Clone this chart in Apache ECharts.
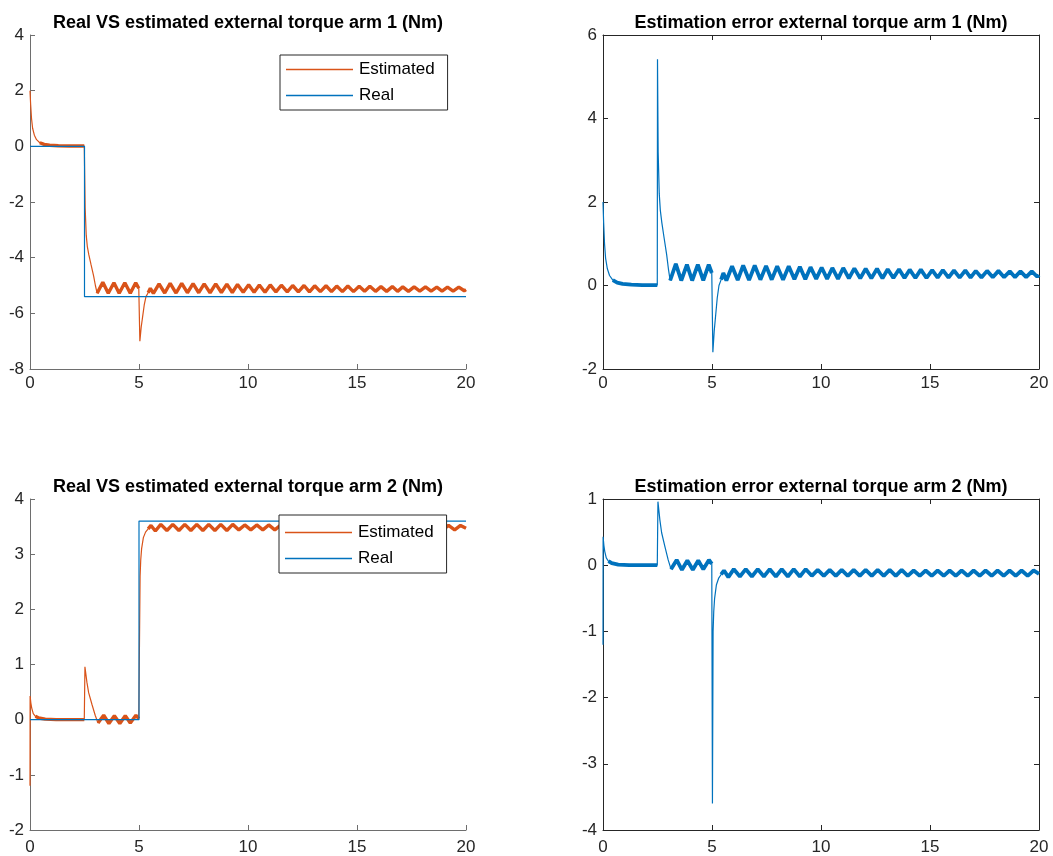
<!DOCTYPE html>
<html>
<head>
<meta charset="utf-8">
<script src="https://cdn.jsdelivr.net/npm/echarts@6/dist/echarts.min.js"></script>
<style>
  html, body { margin: 0; padding: 0; background: #fff; }
  #chart { width: 1053px; height: 856px; }
</style>
</head>
<body>
<div id="chart"></div>
<script>
// ---- data -------------------------------------------------------------
// Real external torque: step profiles (time in s, torque in Nm)
const realTime1 = [0, 2.5, 2.5, 20];
const realValue1 = [0, 0, -5.4, -5.4];
const realTime2 = [0, 5, 5, 20];
const realValue2 = [0, 0, 3.6, 3.6];

// Estimation error (estimated - real), arm 1: [time, error]
const err1 = [
  [0, 2.0], [0.03, 1.5], [0.07, 1.0], [0.12, 0.65], [0.2, 0.4], [0.3, 0.24], [0.45, 0.13],
  [0.65, 0.07], [0.9, 0.04], [1.3, 0.02], [1.8, 0.01], [2.49, 0.01],
  [2.5, 5.42], [2.53, 3.2], [2.58, 2.2], [2.63, 1.8], [2.7, 1.5], [2.8, 1.15], [2.92, 0.74],
  [3.0, 0.4], [3.08, 0.12],
  [3.34, 0.52], [3.59, 0.12], [3.85, 0.5], [4.09, 0.12], [4.35, 0.5], [4.6, 0.12], [4.85, 0.5],
  [4.99, 0.3], [5.04, -1.6], [5.1, -1.1], [5.17, -0.7], [5.24, -0.3], [5.32, 0.0], [5.42, 0.14],
  [5.52, 0.3], [5.66, 0.12], [5.92, 0.46], [6.18, 0.13], [6.43, 0.48], [6.7, 0.13], [6.96, 0.48],
  [7.22, 0.14], [7.48, 0.47], [7.74, 0.14], [7.99, 0.46], [8.26, 0.14], [8.52, 0.46], [8.78, 0.15],
  [9.03, 0.45], [9.28, 0.15], [9.52, 0.44], [9.78, 0.16], [10.03, 0.43], [10.28, 0.16], [10.52, 0.42],
  [10.78, 0.16], [11.02, 0.42], [11.28, 0.17], [11.53, 0.41], [11.8, 0.17], [12.05, 0.4], [12.31, 0.17],
  [12.57, 0.4], [12.82, 0.17], [13.06, 0.39], [13.32, 0.18], [13.58, 0.39], [13.83, 0.18], [14.07, 0.38],
  [14.33, 0.18], [14.58, 0.38], [14.84, 0.18], [15.1, 0.37], [15.35, 0.19], [15.59, 0.37], [15.85, 0.19],
  [16.1, 0.36], [16.36, 0.19], [16.62, 0.36], [16.86, 0.19], [17.1, 0.35], [17.36, 0.19], [17.62, 0.35],
  [17.88, 0.2], [18.14, 0.35], [18.4, 0.2], [18.66, 0.34], [18.9, 0.2], [19.15, 0.34], [19.41, 0.2],
  [19.67, 0.34], [19.92, 0.21], [20, 0.25]
];

// Estimation error (estimated - real), arm 2: [time, error]
const err2 = [
  [0, -1.2], [0.005, 0.43], [0.04, 0.3], [0.08, 0.21], [0.15, 0.11], [0.25, 0.06], [0.4, 0.03],
  [0.7, 0.01], [1.2, 0.0], [2.49, 0.0],
  [2.52, 0.96], [2.61, 0.68], [2.69, 0.49], [2.84, 0.28], [2.99, 0.08], [3.12, -0.06],
  [3.38, 0.08], [3.62, -0.07], [3.87, 0.07], [4.12, -0.07], [4.37, 0.07], [4.6, -0.06], [4.86, 0.08],
  [4.99, 0.02], [5.02, -3.6], [5.05, -1.0], [5.08, -0.7], [5.12, -0.5], [5.2, -0.3], [5.3, -0.2],
  [5.42, -0.14], [5.55, -0.08], [5.75, -0.18], [6.0, -0.06], [6.28, -0.17], [6.55, -0.06], [6.83, -0.17],
  [7.1, -0.06], [7.38, -0.17], [7.65, -0.06], [7.93, -0.17], [8.2, -0.06], [8.48, -0.17], [8.75, -0.06],
  [9.03, -0.17], [9.3, -0.06], [9.58, -0.16], [9.85, -0.07], [10.13, -0.16], [10.4, -0.07], [10.68, -0.16],
  [10.95, -0.07], [11.23, -0.16], [11.5, -0.07], [11.78, -0.16], [12.05, -0.07], [12.33, -0.16], [12.6, -0.07],
  [12.88, -0.16], [13.15, -0.07], [13.43, -0.16], [13.7, -0.07], [13.98, -0.16], [14.25, -0.08], [14.53, -0.16],
  [14.8, -0.08], [15.08, -0.16], [15.35, -0.08], [15.63, -0.16], [15.9, -0.08], [16.18, -0.16], [16.45, -0.08],
  [16.73, -0.16], [17.0, -0.08], [17.28, -0.16], [17.55, -0.08], [17.83, -0.16], [18.1, -0.08], [18.38, -0.16],
  [18.65, -0.08], [18.93, -0.16], [19.2, -0.08], [19.48, -0.16], [19.75, -0.08], [20, -0.13]
];

const titles = [
  'Real VS estimated external torque arm 1 (Nm)',
  'Estimation error external torque arm 1 (Nm)',
  'Real VS estimated external torque arm 2 (Nm)',
  'Estimation error external torque arm 2 (Nm)'
];
const xTicks = [0, 5, 10, 15, 20];
const yRanges = [[-8, 4, 2], [-2, 6, 2], [-2, 4, 1], [-4, 1, 1]];
const legendNames = ['Estimated', 'Real'];

// ---- helpers ----------------------------------------------------------
function stepValue(times, values, t) {
  let v = values[0];
  for (let i = 0; i < times.length; i++) if (times[i] <= t) v = values[i];
  return v;
}
const real1 = realTime1.map((t, i) => [t, realValue1[i]]);
const real2 = realTime2.map((t, i) => [t, realValue2[i]]);
const est1 = err1.map(([t, e]) => [t, stepValue(realTime1, realValue1, t) + e]);
const est2 = err2.map(([t, e]) => [t, stepValue(realTime2, realValue2, t) + e]);

// ---- styling ----------------------------------------------------------
const BLUE = '#0072BD';
const ORANGE = '#D95319';
const FONT = '"Liberation Sans", Arial, Helvetica, sans-serif';
const TEXT = '#262626';

const grids = [
  { left: 30, top: 35, width: 436, height: 334 },
  { left: 603, top: 35, width: 436, height: 334 },
  { left: 30, top: 499, width: 436, height: 334 },
  { left: 603, top: 499, width: 436, height: 334 }
];
const boxed = [false, true, false, true];
const axisColor = ['#6e6e6e', TEXT, '#6e6e6e', TEXT];

// settled stretches where the measurement noise widens the trace
const noisySpans1 = [[0.4, 2.49], [3.05, 4.99], [5.4, 20]];
const noisySpans2 = [[0.2, 2.49], [3.0, 4.99], [5.35, 20]];

const xAxis = [], yAxis = [], series = [], title = [];
const axisIdx = [];

grids.forEach((g, i) => {
  const c = axisColor[i];
  const labelMargin = i < 2 ? 6 : 9;
  const base = {
    gridIndex: i,
    type: 'value',
    axisLine: { show: true, onZero: false, lineStyle: { color: c, width: 1 } },
    axisTick: { show: true, inside: true, length: 5, lineStyle: { color: c } },
    splitLine: { show: false }
  };
  const xi = xAxis.length;
  xAxis.push(Object.assign({}, base, {
    min: 0, max: 20, interval: 5, position: 'bottom',
    axisLabel: { color: TEXT, fontSize: 17, fontFamily: FONT, margin: labelMargin }
  }));
  if (boxed[i]) {
    xAxis.push(Object.assign({}, base, {
      min: 0, max: 20, interval: 5, position: 'top', axisLabel: { show: false }
    }));
  }
  const [ymin, ymax, yint] = yRanges[i];
  const yi = yAxis.length;
  yAxis.push(Object.assign({}, base, {
    min: ymin, max: ymax, interval: yint, position: 'left',
    axisLabel: { color: TEXT, fontSize: 17, fontFamily: FONT, margin: 6 }
  }));
  if (boxed[i]) {
    yAxis.push(Object.assign({}, base, {
      min: ymin, max: ymax, interval: yint, position: 'right', axisLabel: { show: false }
    }));
  }
  axisIdx.push([xi, yi]);
  title.push({
    text: titles[i],
    left: g.left + g.width / 2 - 5,
    top: i < 2 ? 9 : 473,
    textAlign: 'center',
    textStyle: { fontSize: 18, fontWeight: 'bold', color: '#000', fontFamily: FONT }
  });
});

function lineSeries(name, data, gi, color, width, extra) {
  return Object.assign({
    name, type: 'line', data,
    xAxisIndex: axisIdx[gi][0], yAxisIndex: axisIdx[gi][1],
    symbol: 'none', showSymbol: false, smooth: false, animation: false,
    lineStyle: { color, width }, itemStyle: { color },
    emphasis: { disabled: true }
  }, extra || {});
}
function noisyBands(name, data, gi, color, spans, width) {
  return spans.map((s, k) => lineSeries(name + ' band ' + k,
    data.filter(p => p[0] >= s[0] && p[0] <= s[1]), gi, color, width));
}

// arm 1: estimated vs real
series.push(lineSeries('Estimated', est1, 0, ORANGE, 1.2));
series.push(...noisyBands('Estimated arm 1', est1, 0, ORANGE, noisySpans1, 3.4));
series.push(lineSeries('Real', real1, 0, BLUE, 1.2));
// arm 1: error
series.push(lineSeries('Error arm 1', err1, 1, BLUE, 1.2));
series.push(...noisyBands('Error arm 1', err1, 1, BLUE, noisySpans1, 3.8));
// arm 2: estimated vs real
series.push(lineSeries('Estimated', est2, 2, ORANGE, 1.2));
series.push(...noisyBands('Estimated arm 2', est2, 2, ORANGE, noisySpans2, 3.4));
series.push(lineSeries('Real', real2, 2, BLUE, 1.2));
// arm 2: error
series.push(lineSeries('Error arm 2', err2, 3, BLUE, 1.2));
series.push(...noisyBands('Error arm 2', err2, 3, BLUE, noisySpans2, 3.8));

const legendBase = {
  data: legendNames,
  orient: 'vertical',
  icon: 'rect',
  itemWidth: 67,
  itemHeight: 1.5,
  itemGap: 9,
  selectedMode: false,
  borderColor: TEXT,
  borderWidth: 1,
  backgroundColor: '#fff',
  textStyle: { fontSize: 17, color: '#000', fontFamily: FONT, padding: [0, 0, 0, 1] },
  z: 10
};
const legend = [
  Object.assign({}, legendBase, { left: 280, top: 55, padding: [6, 13, 6, 6] }),
  Object.assign({}, legendBase, { left: 279, top: 515, padding: [9, 13, 6, 6] })
];

const chart = echarts.init(document.getElementById('chart'), null, { renderer: 'canvas' });
chart.setOption({
  animation: false,
  backgroundColor: '#fff',
  title, grid: grids.map(g => Object.assign({ containLabel: false }, g)),
  xAxis, yAxis, legend, series
});
</script>
</body>
</html>
